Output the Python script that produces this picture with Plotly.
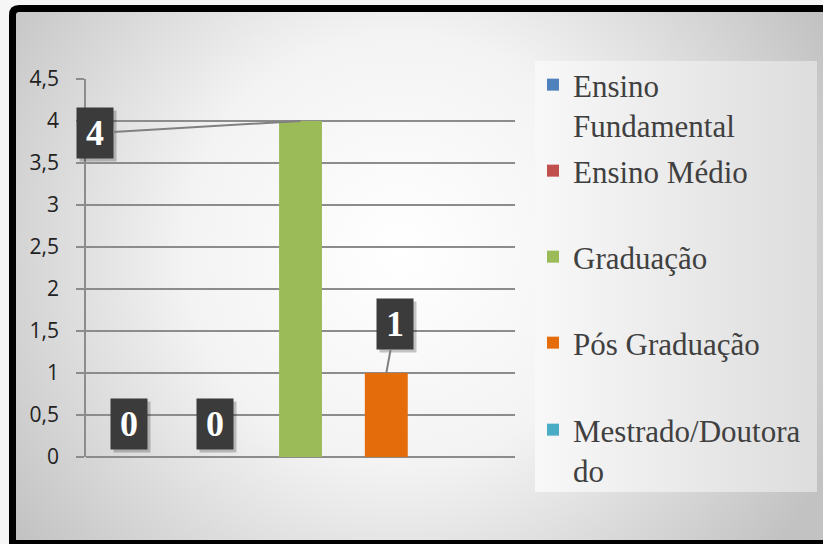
import base64
import plotly.graph_objects as go

# ---- data ----
categories = ["Ensino Fundamental", "Ensino Médio", "Graduação", "Pós Graduação", "Mestrado/Doutorado"]
legend_labels = ["Ensino<br>Fundamental", "Ensino Médio", "Graduação", "Pós Graduação", "Mestrado/Doutora<br>do"]
values = [0, 0, 4, 1, 0]
colors = ["#4f81bd", "#c0504d", "#9bbb59", "#e46c0a", "#4bacc6"]
label_texts = ["0", "0", "4", "1", None]
y_tickvals = [0, 0.5, 1, 1.5, 2, 2.5, 3, 3.5, 4, 4.5]
y_ticktext = ["0", "0,5", "1", "1,5", "2", "2,5", "3", "3,5", "4", "4,5"]

W, H = 823, 544
L, R, T, B = 86, 308, 79, 87
pw, ph = W - L - R, H - T - B

# background (chart area gradient, frame, legend panel)
svg = f"""<svg xmlns='http://www.w3.org/2000/svg' width='{W}' height='{H}' viewBox='0 0 {W} {H}' preserveAspectRatio='none'>
<defs>
<radialGradient id='bg' cx='400' cy='250' r='480' gradientUnits='userSpaceOnUse'>
<stop offset='0' stop-color='#ffffff'/>
<stop offset='0.45' stop-color='#f3f3f3'/>
<stop offset='1' stop-color='#c2c2c2'/>
</radialGradient>
<linearGradient id='lg' x1='0' y1='0' x2='1' y2='0'>
<stop offset='0' stop-color='#f8f8f8'/>
<stop offset='1' stop-color='#dddddd'/>
</linearGradient>
</defs>
<rect width='{W}' height='{H}' fill='#f6f6f6'/>
<path d='M12.5,543.5 L12.5,15 Q12.5,8.5 19,8.5 L835,8.5 L835,543.5 Z' fill='url(#bg)' stroke='#000000' stroke-width='7'/>
<rect x='535' y='61' width='282' height='431' fill='url(#lg)'/>
</svg>"""
svg_uri = "data:image/svg+xml;base64," + base64.b64encode(svg.encode("utf-8")).decode("ascii")

fig = go.Figure()

legend_centers = [87, 173, 259, 345, 432]
legend_names = ["legend", "legend2", "legend3", "legend4", "legend5"]
for i, cat in enumerate(categories):
    fig.add_trace(go.Bar(
        x=[cat], y=[values[i]], name=legend_labels[i],
        marker=dict(color=colors[i], line=dict(width=0)),
        width=0.5, legend=legend_names[i], hoverinfo="x+y",
    ))

# data labels (dark boxes with leader lines)
label_offsets = {0: (0, -33), 1: (0, -33), 2: (-206, 12), 3: (9, -49)}
annotations = []
for i, txt in enumerate(label_texts):
    if txt is None:
        continue
    ax, ay = label_offsets[i]
    common = dict(x=categories[i], y=values[i], xref="x", yref="y",
                  width=36, height=50, borderpad=0)
    # shadow
    annotations.append(dict(common, text=" ", showarrow=False,
                            xshift=ax + 3, yshift=-ay - 3,
                            bgcolor="rgba(0,0,0,0.22)"))
    if ax == 0 and abs(ay) < 40:
        annotations.append(dict(common, text=f"<b>{txt}</b>", showarrow=False,
                                xshift=ax, yshift=-ay, bgcolor="#3b3b3b",
                                font=dict(family="Liberation Serif", size=36, color="#ffffff")))
    else:
        annotations.append(dict(common, text=f"<b>{txt}</b>", showarrow=True,
                                ax=ax, ay=ay, arrowhead=0, arrowwidth=2,
                                arrowcolor="#808080", standoff=0, startstandoff=0,
                                bgcolor="#3b3b3b",
                                font=dict(family="Liberation Serif", size=36, color="#ffffff")))

legend_layouts = {}
for i, ln in enumerate(legend_names):
    legend_layouts[ln] = dict(
        x=533 / W, y=1 - (legend_centers[i] - 29) / H, xref="container", yref="container",
        xanchor="left", yanchor="top", valign="top",
        bgcolor="rgba(0,0,0,0)", borderwidth=0,
        font=dict(family="Liberation Serif", size=31, color="#404040"),
        itemclick=False, itemdoubleclick=False,
    )

fig.update_layout(
    width=W, height=H,
    margin=dict(l=L, r=R, t=T, b=B, autoexpand=False),
    paper_bgcolor="#f6f6f6", plot_bgcolor="rgba(0,0,0,0)",
    barmode="overlay", separators=", ",
    showlegend=True,
    images=[dict(source=svg_uri, xref="paper", yref="paper",
                 x=-L / pw, y=1 + T / ph, sizex=W / pw, sizey=H / ph,
                 xanchor="left", yanchor="top", sizing="stretch", layer="below")],
    annotations=annotations,
    xaxis=dict(type="category", categoryorder="array", categoryarray=categories,
               range=[-0.5, 4.5], showticklabels=False, showgrid=False,
               zeroline=False, showline=False, ticks="", fixedrange=True),
    yaxis=dict(range=[0, 4.5], tickvals=y_tickvals, ticktext=y_ticktext,
               showgrid=True, gridcolor="#8c8c8c", gridwidth=1.5,
               zeroline=True, zerolinecolor="#8c8c8c", zerolinewidth=1.5,
               showline=True, linecolor="#8c8c8c", linewidth=1.5,
               ticks="outside", ticklen=8, tickcolor="#8c8c8c", tickwidth=1.5,
               ticklabelstandoff=13,
               tickfont=dict(family="Open Sans", size=21, color="#222222"),
               fixedrange=True),
    **legend_layouts,
)

fig.write_html("out.html", config={"displayModeBar": False},
               post_script="document.body.style.margin='0';")
